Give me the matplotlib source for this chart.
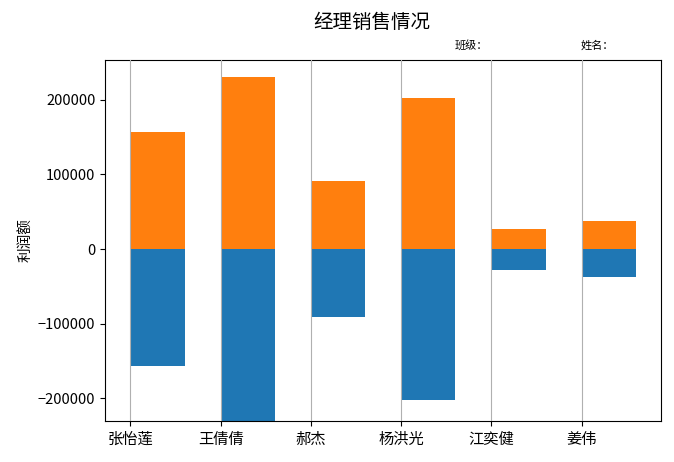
import matplotlib.pyplot as plt
import numpy as np

plt.rcParams['font.family'] = ['Noto Sans CJK SC', 'DejaVu Sans']
plt.rcParams['axes.unicode_minus'] = True

names = ['张怡莲', '王倩倩', '郝杰', '杨洪光', '江奕健', '姜伟']
profit = [157000, 230000, 91500, 202000, 27500, 38000]

x = np.arange(len(names))
fig, ax = plt.subplots(figsize=(6.74, 4.62), dpi=100)
ax.bar(x, [-p for p in profit], width=0.6, align='edge', color='#1f77b4')
ax.bar(x, profit, width=0.6, align='edge', color='#ff7f0e')
ax.set_xticks(x)
ax.set_xticklabels(names, fontsize=11)
ax.tick_params(axis='y', labelsize=10.5)
ax.set_ylim(-230000, 253000)
ax.set_ylabel('利润额', fontsize=10.5)
ax.grid(axis='x')
ax.set_axisbelow(False)
fig.suptitle('经理销售情况', fontsize=14, x=0.552, y=0.975)
fig.text(0.675, 0.895, '班级：', fontsize=8)
fig.text(0.862, 0.895, '姓名：', fontsize=8)
fig.subplots_adjust(left=0.156, right=0.981, top=0.87, bottom=0.089)
plt.savefig('out.png')
